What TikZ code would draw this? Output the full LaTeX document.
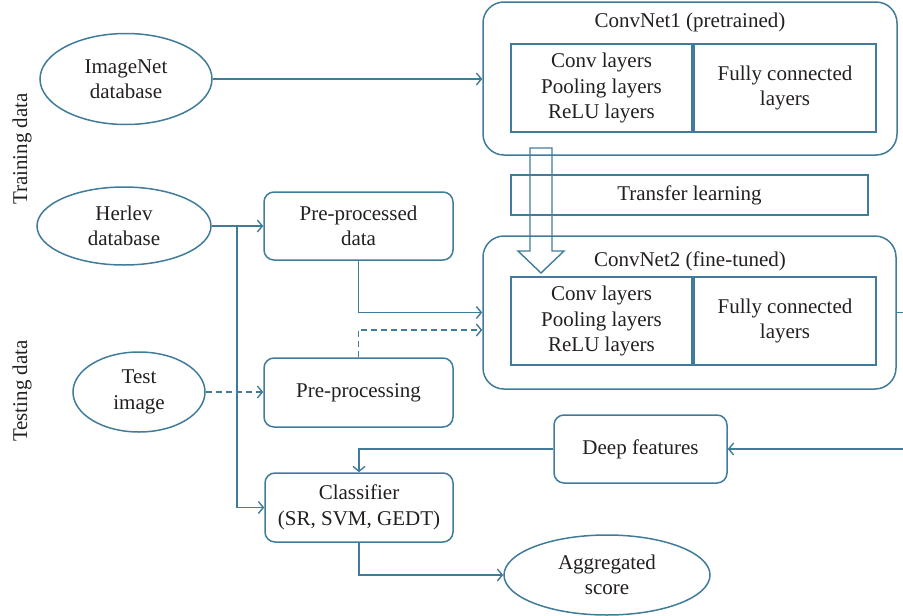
\documentclass[tikz,border=0pt]{standalone}
\usepackage{fontspec}
\setmainfont{Liberation Serif}
\usetikzlibrary{shapes.geometric,arrows.meta}
\definecolor{lc}{RGB}{64,124,154}
\definecolor{tc}{RGB}{35,31,32}
\begin{document}
\begin{tikzpicture}[x=1pt,y=-1pt,
  every node/.style={text=tc,font=\fontsize{21}{25.5}\selectfont,align=center,inner sep=0pt},
  ell/.style={draw=lc,line width=1.5pt,ellipse},
  rbox/.style={draw=lc,line width=1.5pt,rounded corners=10pt},
  bigbox/.style={draw=lc,line width=1.5pt,rounded corners=21pt},
  sbox/.style={draw=lc,line width=1.5pt},
  conn/.style={draw=lc,line width=1.5pt,-{Straight Barb[length=5pt,width=12pt,line width=1.4pt]}},
  dconn/.style={conn,dash pattern=on 6pt off 4pt},
  hollow/.style={draw=lc,line width=1.4pt,line join=miter}
]
\useasboundingbox (0,0) rectangle (903,616);
\clip (0,0) rectangle (903,616);

% ellipses
\node[ell,minimum width=172pt,minimum height=91pt] (imagenet) at (126,79) {ImageNet\\database};
\node[ell,minimum width=174pt,minimum height=78pt] (herlev) at (124,226) {Herlev\\database};
\node[ell,minimum width=132pt,minimum height=80pt] (test) at (139,392) {Test\\image};
\node[ell,minimum width=206pt,minimum height=80pt] (agg) at (607,575) {Aggregated\\score};

% side labels
\node[rotate=90] (train) at (22,149) {Training data};
\node[rotate=90] (testing) at (22,391) {Testing data};

% ConvNet1
\node[bigbox,minimum width=414pt,minimum height=153pt] (cn1) at (690,78.5) {};
\node (cn1t) at (690,22) {ConvNet1 (pretrained)};
\node[sbox,minimum width=181pt,minimum height=88pt] (cn1a) at (601.5,88) {Conv layers\\Pooling layers\\ReLU layers};
\node[sbox,minimum width=182pt,minimum height=88pt] (cn1b) at (785,88) {Fully connected\\layers};

% Transfer learning
\node[sbox,minimum width=357pt,minimum height=40pt] (tl) at (689.5,195) {Transfer learning};

% ConvNet2
\node[bigbox,minimum width=413pt,minimum height=153pt] (cn2) at (689.5,312.5) {};
\node (cn2t) at (690,261) {ConvNet2 (fine-tuned)};
\node[sbox,minimum width=181pt,minimum height=88pt] (cn2a) at (601.5,321) {Conv layers\\Pooling layers\\ReLU layers};
\node[sbox,minimum width=182pt,minimum height=88pt] (cn2b) at (785,321) {Fully connected\\layers};

% hollow transfer arrow
\draw[hollow] (530,148) -- (530,251) -- (518,251) -- (541,273) -- (564,251) -- (552,251) -- (552,148) -- cycle;

% rounded boxes
\node[rbox,minimum width=189pt,minimum height=68pt] (ppd) at (358.5,226) {Pre-processed\\data};
\node[rbox,minimum width=189pt,minimum height=69pt] (pp) at (358.5,392.5) {Pre-processing};
\node[rbox,minimum width=188pt,minimum height=69pt] (cls) at (359,507.5) {Classifier\\(SR, SVM, GEDT)};
\node[rbox,minimum width=173pt,minimum height=68pt] (deep) at (640.5,449) {Deep features};

% connectors
\coordinate (j) at (237,226);
\draw[conn] (imagenet.east) -- (imagenet.east -| cn1.west);
\draw[conn] (herlev.east) -- (ppd.west);
\draw[conn] (j) |- (cls.west);
\draw[conn] (ppd.south) |- (cn2.west);
\draw[dconn] (pp.north) |- ([yshift=-17.5pt]cn2.west);
\draw[dconn] (test.east) -- (test.east -| pp.west);
\draw[conn] (deep.west) -| (cls.north);
\draw[conn] (cls.south) |- (agg.west);
\coordinate (r) at (930,312.5);
\draw[conn] (cn2.east) -- (r) |- (deep.east);
\end{tikzpicture}
\end{document}
